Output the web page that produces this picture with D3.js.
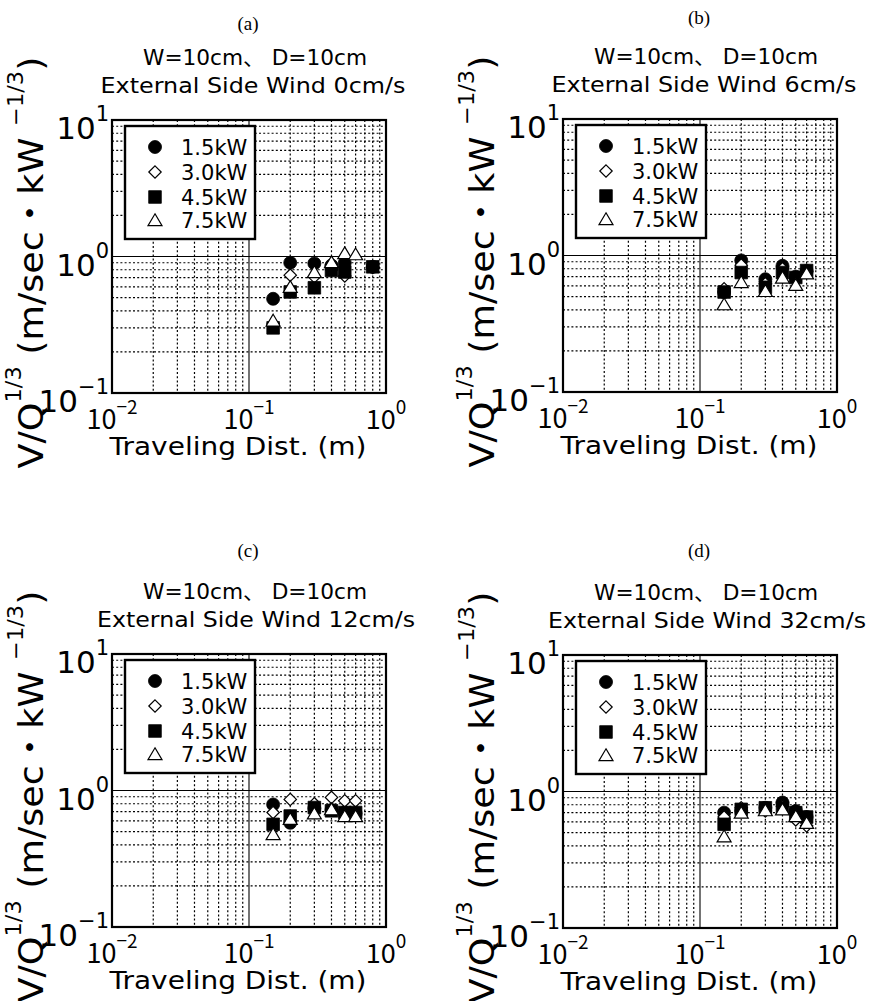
<!DOCTYPE html>
<html><head><meta charset="utf-8">
<script src="https://cdn.jsdelivr.net/npm/d3@7"></script>
<style>
html,body{margin:0;padding:0;background:#fff;}
svg{display:block;}
</style></head>
<body>
<script>
// ---------------- DATA ----------------
const panelLetters = ["(a)", "(b)", "(c)", "(d)"];
const titleLine1 = "W=10cm、 D=10cm";
const windSpeeds = ["0cm/s", "6cm/s", "12cm/s", "32cm/s"];
const seriesNames = ["1.5kW", "3.0kW", "4.5kW", "7.5kW"];
const xTickExps = [-2, -1, 0];
const yTickExps = [-1, 0, 1];
const dist = [0.15, 0.2, 0.3, 0.4, 0.5, 0.6, 0.8];

// panel (a): side wind 0 cm/s
const a15 = [0.49, 0.90, 0.89, 0.86, 0.90, null, 0.84];
const a30 = [0.32, 0.73, 0.71, 0.80, 0.72, null, 0.83];
const a45 = [0.30, 0.55, 0.59, 0.79, 0.77, null, 0.84];
const a75 = [0.34, 0.60, 0.77, 0.91, 1.06, 1.04, null];
// panel (b): side wind 6 cm/s
const b15 = [0.54, 0.92, 0.67, 0.84, 0.70, 0.77, null];
const b30 = [0.57, 0.85, 0.62, 0.80, 0.68, 0.76, null];
const b45 = [0.54, 0.75, 0.585, 0.75, 0.69, 0.776, null];
const b75 = [0.44, 0.64, 0.55, 0.69, 0.61, 0.74, null];
// panel (c): side wind 12 cm/s
const c15 = [0.79, 0.58, 0.74, 0.72, 0.69, 0.68, null];
const c30 = [0.69, 0.86, 0.80, 0.89, 0.84, 0.84, null];
const c45 = [0.565, 0.65, 0.75, 0.71, 0.69, 0.69, null];
const c75 = [0.48, 0.62, 0.68, 0.73, 0.65, 0.65, null];
// panel (d): side wind 32 cm/s
const d15 = [0.70, 0.72, 0.76, 0.83, 0.72, 0.65, null];
const d30 = [0.65, 0.76, 0.72, 0.78, 0.62, 0.56, null];
const d45 = [0.575, 0.74, 0.76, 0.76, 0.70, 0.65, null];
const d75 = [0.47, 0.70, 0.73, 0.74, 0.66, 0.59, null];

const panelSeries = [[a15, a30, a45, a75], [b15, b30, b45, b75], [c15, c30, c45, c75], [d15, d30, d45, d75]];

// ---------------- LAYOUT ----------------
const SANS = "'DejaVu Sans', 'Noto Sans CJK JP', sans-serif";
const TICK = "'Noto Sans CJK JP', 'DejaVu Sans', sans-serif";
const SERIF = "'Liberation Serif', 'DejaVu Serif', serif";
const frames = [
  {left: 112, top: 120, letterDy: -90},
  {left: 563, top: 119, letterDy: -95},
  {left: 112, top: 654, letterDy: -97},
  {left: 563, top: 655, letterDy: -98}
];
const FW = 274, FH = 273;

const svg = d3.select("body").append("svg").attr("width", 875).attr("height", 1001);
svg.append("rect").attr("width", 875).attr("height", 1001).attr("fill", "#fff");

const x = d3.scaleLog().domain([0.01, 1]).range([0, FW]);
const y = d3.scaleLog().domain([0.1, 10]).range([FH, 0]);

const minorX = [], minorY = [];
[0.01, 0.1].forEach(dec => { for (let k = 2; k <= 9; k++) minorX.push(k * dec); });
[0.1, 1].forEach(dec => { for (let k = 2; k <= 9; k++) minorY.push(k * dec); });

function symbolPath(type, cx, cy) {
  if (type === 0) { const r = 6.5; return `M${cx - r},${cy}a${r},${r} 0 1,0 ${2 * r},0a${r},${r} 0 1,0 ${-2 * r},0Z`; }
  if (type === 1) { const s = 6.2; return `M${cx},${cy - s}L${cx + s},${cy}L${cx},${cy + s}L${cx - s},${cy}Z`; }
  if (type === 2) { const s = 6.3; return `M${cx - s},${cy - s}H${cx + s}V${cy + s}H${cx - s}Z`; }
  const w = 7, h = 6.2; return `M${cx},${cy - h}L${cx + w},${cy + h * 0.9}L${cx - w},${cy + h * 0.9}Z`;
}
function styleSym(sel, type) {
  const filled = (type === 0 || type === 2);
  sel.attr("fill", filled ? "#000" : "#fff").attr("stroke", "#000").attr("stroke-width", filled ? 0.8 : 1.2);
}

frames.forEach((f, pi) => {
  const g = svg.append("g").attr("transform", `translate(${f.left},${f.top})`);
  const cxm = f.left + FW / 2;
  const wide = windSpeeds[pi].length > 5;

  // letter
  svg.append("text").attr("x", cxm - 1).attr("y", f.top + f.letterDy).attr("text-anchor", "middle")
    .attr("font-family", SERIF).attr("font-size", 19).text(panelLetters[pi]);
  // titles
  svg.append("text").attr("x", cxm + 6).attr("y", f.top - 55).attr("text-anchor", "middle")
    .attr("font-family", SANS).attr("font-size", 21)
    .attr("textLength", 224).attr("lengthAdjust", "spacingAndGlyphs").text(titleLine1);
  svg.append("text").attr("x", cxm + (wide ? 7 : 4)).attr("y", f.top - 27).attr("text-anchor", "middle")
    .attr("font-family", SANS).attr("font-size", 22)
    .attr("textLength", wide ? 318 : 305).attr("lengthAdjust", "spacingAndGlyphs")
    .text("External Side Wind " + windSpeeds[pi]);

  // grid
  g.selectAll(".gx").data(minorX).enter().append("line")
    .attr("x1", d => x(d)).attr("x2", d => x(d)).attr("y1", 0).attr("y2", FH)
    .attr("stroke", "#000").attr("stroke-width", 1.2).attr("stroke-dasharray", "2,2.2");
  g.selectAll(".gy").data(minorY).enter().append("line")
    .attr("y1", d => y(d)).attr("y2", d => y(d)).attr("x1", 0).attr("x2", FW)
    .attr("stroke", "#000").attr("stroke-width", 1.2).attr("stroke-dasharray", "2,2.2");
  g.append("line").attr("x1", x(0.1)).attr("x2", x(0.1)).attr("y1", 0).attr("y2", FH).attr("stroke", "#000").attr("stroke-width", 1.1);
  g.append("line").attr("y1", y(1)).attr("y2", y(1)).attr("x1", 0).attr("x2", FW).attr("stroke", "#000").attr("stroke-width", 1.1);

  // data
  const series = panelSeries[pi];
  series.forEach((vals, si) => {
    const pts = dist.map((d, i) => ({d, v: vals[i]})).filter(p => p.v != null);
    g.selectAll(".s" + si).data(pts).enter().append("path")
      .attr("d", p => symbolPath(si, x(p.d), y(p.v)))
      .call(styleSym, si);
  });

  // legend
  const lg = g.append("g").attr("transform", "translate(13,6)");
  lg.append("rect").attr("width", 130).attr("height", 113).attr("fill", "#fff").attr("stroke", "#000").attr("stroke-width", 2.4);
  const rows = [21, 46, 71, 94];
  seriesNames.forEach((name, si) => {
    lg.append("path").attr("d", symbolPath(si, 30, rows[si])).call(styleSym, si);
    lg.append("text").attr("x", 56).attr("y", rows[si] + 8).attr("font-family", SANS).attr("font-size", 21).text(name);
  });

  // frame
  g.append("rect").attr("width", FW).attr("height", FH).attr("fill", "none").attr("stroke", "#000").attr("stroke-width", 2.2);

  // x tick labels
  xTickExps.forEach(e => {
    const t = svg.append("text").attr("x", f.left + x(Math.pow(10, e))).attr("y", f.top + FH + 36)
      .attr("text-anchor", "middle").attr("font-family", TICK).attr("font-size", 27);
    t.append("tspan").text("10");
    t.append("tspan").attr("font-size", 19).attr("dy", -15).text(e < 0 ? "\u2212" + (-e) : String(e));
  });
  // y tick labels
  yTickExps.forEach(e => {
    const t = svg.append("text").attr("x", f.left - 3).attr("y", f.top + y(Math.pow(10, e)) + 19)
      .attr("text-anchor", "end").attr("font-family", SANS).attr("font-size", 31);
    t.append("tspan").text("10");
    t.append("tspan").attr("font-size", 21).attr("dy", -18).text(e < 0 ? "\u2212" + (-e) : String(e));
  });

  // x title
  svg.append("text").attr("x", cxm - 11).attr("y", f.top + FH + 62).attr("text-anchor", "middle")
    .attr("font-family", SANS).attr("font-size", 25)
    .attr("textLength", 257).attr("lengthAdjust", "spacingAndGlyphs").text("Traveling Dist. (m)");

  // y title
  const ytg = svg.append("g").attr("transform", `translate(${f.left - 69},${f.top + FH / 2 + 6}) rotate(-90)`);
  const ytInner = ytg.append("g");
  const yt = ytInner.append("text").attr("text-anchor", "middle").attr("font-family", SANS).attr("font-size", 34);
  yt.append("tspan").text("V/Q");
  yt.append("tspan").attr("font-size", 21).attr("dy", -22).text("1/3");
  yt.append("tspan").attr("dy", 22).text(" (m/sec\u30FBkW ");
  yt.append("tspan").attr("font-size", 21).attr("dy", -20).text("\u22121/3");
  yt.append("tspan").attr("dy", 20).text(")");
  const bb = yt.node().getBBox();
  const sx = 412 / bb.width;
  ytInner.attr("transform", `scale(${sx},1) translate(${-(bb.x + bb.width / 2)},0)`);
});
</script>
</body></html>
